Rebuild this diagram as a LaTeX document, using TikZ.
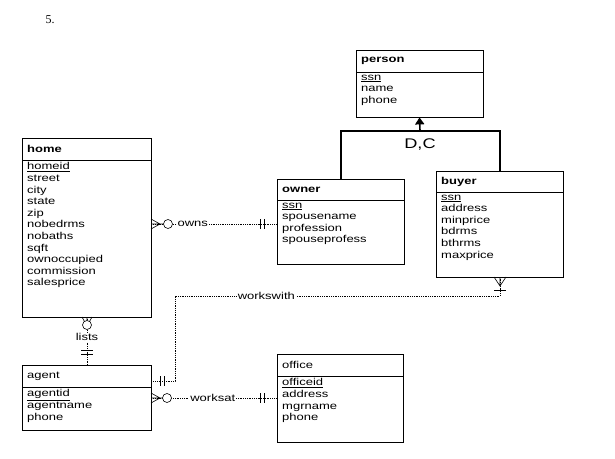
\documentclass[tikz,border=0pt]{standalone}
\usepackage{fontspec}
\setmainfont{Liberation Sans}[FakeStretch=1.3]
\newfontfamily\serifx{Liberation Serif}
\usetikzlibrary{calc,arrows.meta}
\tikzset{
 box/.style={draw,line width=0.8pt,inner sep=0pt},
 rel/.style={line width=0.4pt,dash pattern=on 1pt off 0.8pt},
 tick/.style={line width=0.6pt},
 lab/.style={font=\fontsize{10}{11}\selectfont,fill=white,inner sep=1pt},
 ttl/.style={font=\fontsize{10}{11}\selectfont\bfseries,anchor=west,inner sep=0pt},
 att/.style={font=\fontsize{10}{11.6}\selectfont,anchor=north west,inner sep=0pt,align=left},
}
\newcommand{\ent}[8]{%
 \node[box,minimum width=#4pt-#2pt,minimum height=#5pt-#3pt] (#1) at ({(#2+#4)/2},{(#3+#5)/2}) {};
 \draw[line width=0.8pt] (#2,#6) -- (#4,#6);
 \node[ttl] (#1t) at ({#2+5},{(#3+#6)/2}) {#7};
 \node[att] (#1a) at ({#2+5},{#6+2.5}) {#8};
}
\begin{document}
\begin{tikzpicture}[x=1pt,y=-1pt]
\useasboundingbox (0,0) rectangle (615,458);
\node[font=\serifx\fontsize{12}{14}\selectfont,anchor=west] (num) at (42,20) {5.};
\ent{person}{356}{50}{483}{117}{72}{person}{\underline{ssn}\\name\\phone}
\ent{home}{22}{138}{151}{317}{160}{home}{\underline{homeid}\\street\\city\\state\\zip\\nobedrms\\nobaths\\sqft\\ownoccupied\\commission\\salesprice}
\ent{owner}{277}{179}{404}{264}{200}{owner}{\underline{ssn}\\spousename\\profession\\spouseprofess}
\ent{buyer}{436}{171}{563}{277}{192}{buyer}{\underline{ssn}\\address\\minprice\\bdrms\\bthrms\\maxprice}
\ent{agent}{22}{365}{151}{430}{387}{\textmd{agent}}{\underline{agentid}\\agentname\\phone}
\ent{office}{277}{354}{403}{442}{376}{\textmd{office}}{\underline{officeid}\\address\\mgrname\\phone}
% generalization
\coordinate (g) at (420,131);
\draw[line width=1.6pt,-{Triangle[length=7pt,width=9pt]}] (g) -- (person.south);
\draw[line width=1.6pt] (owner.north-|341,0) |- (500,131) -- (buyer.north-|500,0);
\node[font=\fontsize{14}{15}\selectfont] (dc) at (420,145) {D,C};
% owns
\draw[rel] (home.east|-0,224) -- node[lab,pos=0.33]{owns} (owner.west|-0,224);
\draw[tick] (151,219) -- (160,224) -- (151,229) (151,224)--(164,224);
\draw[tick,fill=white] (168,224) circle (4.5);
\draw[tick] (260,219)--(260,229) (264,219)--(264,229);
% lists
\draw[rel] (home.south-|87,0) -- node[lab,pos=0.42]{lists} (agent.north-|87,0);
\draw[tick] (82,317) -- (87,326) -- (92,317) (87,317)--(87,321);
\draw[tick,fill=white] (87,325) circle (4.5);
\draw[tick] (81,350)--(93,350) (81,354)--(93,354);
% worksat
\draw[rel] (agent.east|-0,398) -- node[lab,pos=0.49]{worksat} (office.west|-0,398);
\draw[tick] (151,393) -- (160,398) -- (151,403) (151,398)--(164,398);
\draw[tick,fill=white] (167,398) circle (4.5);
\draw[tick] (260,393)--(260,403) (264,393)--(264,403);
% workswith
\draw[rel] (agent.east|-0,381) -| (175,296) -- node[lab,pos=0.281]{workswith} (500,296) -- (buyer.south-|500,0);
\draw[tick] (160,376)--(160,386) (164,376)--(164,386);
\draw[tick] (494,277) -- (500,286) -- (506,277) (500,277)--(500,286);
\draw[tick] (494,290)--(506,290);
\end{tikzpicture}
\end{document}
